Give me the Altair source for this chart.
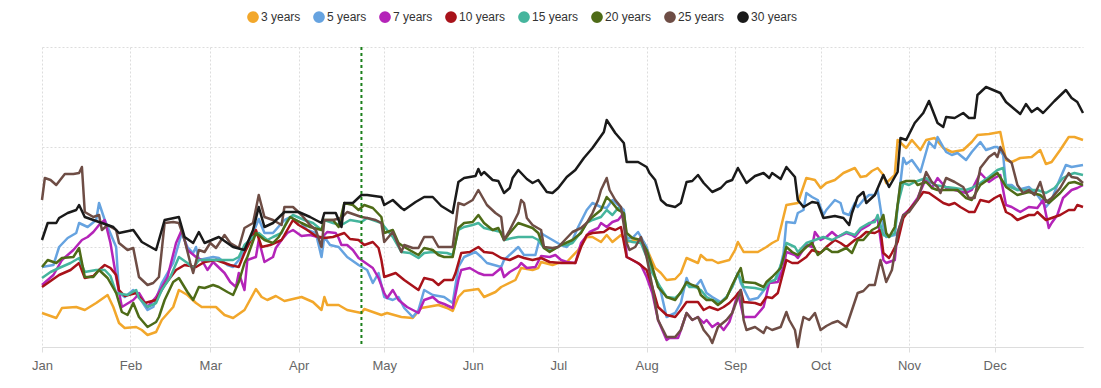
import altair as alt
import pandas as pd

series_names = ["3 years", "5 years", "7 years", "10 years", "15 years", "20 years", "25 years", "30 years"]
series_colors = ["#F2A72B", "#66A3E0", "#B424B8", "#A8121A", "#45B59D", "#4E6B17", "#6E4D45", "#1A1A1A"]

# (day of year, value) pairs
s_3y = [(0,0.34),(5,0.29),(7,0.39),(12,0.40),(15,0.37),(19,0.44),(23,0.52),(25,0.40),(27,0.24),(29,0.19),(33,0.20),(35,0.17),(37,0.12),(40,0.15),(42,0.27),(46,0.40),(48,0.57),(51,0.52),(54,0.44),(56,0.40),(61,0.40),(64,0.32),(67,0.29),(71,0.37),(75,0.58),(77,0.50),(79,0.47),(82,0.51),(85,0.46),(91,0.50),(95,0.45),(98,0.37),(99,0.50),(100,0.42),(104,0.42),(107,0.37),(112,0.34),(113,0.38),(119,0.32),(121,0.34),(126,0.30),(130,0.29),(133,0.39),(135,0.40),(139,0.42),(142,0.39),(144,0.36),(146,0.50),(148,0.56),(153,0.58),(155,0.50),(159,0.55),(161,0.60),(166,0.67),(168,0.79),(172,0.77),(174,0.79),(175,0.85),(179,0.82),(181,0.84),(184,0.85),(188,0.97),(191,1.10),(193,1.10),(196,1.05),(198,1.12),(200,1.05),(203,1.12),(205,1.05),(208,1.07),(211,1.05),(213,0.92),(215,0.79),(217,0.74),(219,0.67),(222,0.68),(224,0.74),(226,0.89),(230,0.84),(231,0.92),(233,0.87),(235,0.87),(237,0.84),(241,0.87),(243,0.97),(244,1.05),(246,0.95),(251,0.95),(254,1.00),(256,1.04),(258,1.07),(261,1.42),(265,1.44),(268,1.69),(271,1.67),(273,1.59),(275,1.64),(278,1.67),(281,1.74),(285,1.79),(287,1.70),(289,1.71),(291,1.76),(293,1.79),(295,1.72),(296,1.64),(299,1.72),(300,2.07),(303,1.99),(305,2.07),(308,1.97),(310,2.07),(313,2.09),(316,1.99),(319,1.95),(323,1.97),(326,2.05),(328,2.12),(332,2.13),(336,2.15),(338,1.87),(340,1.85),(343,1.89),(347,1.90),(350,1.97),(352,1.83),(354,1.85),(357,1.97),(360,2.10),(362,2.10),(365,2.07)]

s_5y = [(0,0.80),(4,0.82),(6,1.00),(9,1.09),(12,1.14),(13,1.24),(16,1.20),(19,1.27),(20,1.44),(22,1.27),(26,1.00),(27,0.54),(29,0.50),(32,0.57),(34,0.50),(37,0.37),(39,0.40),(42,0.64),(46,0.84),(49,1.14),(51,1.00),(53,0.94),(54,1.00),(55,0.87),(60,0.90),(62,0.89),(65,0.82),(67,0.80),(69,0.87),(72,1.04),(74,1.14),(76,1.28),(78,1.14),(81,1.14),(85,1.27),(87,1.30),(91,1.24),(93,1.17),(96,1.14),(98,0.90),(99,1.10),(101,1.02),(104,1.00),(107,0.90),(111,0.82),(114,0.77),(116,0.64),(118,0.74),(120,0.50),(123,0.47),(125,0.50),(127,0.39),(130,0.30),(132,0.37),(134,0.57),(137,0.52),(141,0.50),(144,0.44),(146,0.80),(148,0.90),(152,0.95),(154,0.90),(156,0.84),(161,0.80),(162,0.87),(167,1.00),(169,0.92),(173,0.92),(175,1.14),(176,1.12),(179,1.07),(182,1.02),(184,1.00),(186,1.07),(188,1.20),(191,1.37),(193,1.44),(196,1.40),(198,1.39),(200,1.47),(202,1.42),(204,1.37),(205,1.09),(207,1.09),(209,1.15),(210,1.10),(212,1.00),(214,0.77),(217,0.55),(219,0.30),(222,0.34),(224,0.44),(226,0.69),(227,0.62),(229,0.60),(231,0.67),(233,0.54),(235,0.50),(238,0.45),(240,0.50),(242,0.60),(244,0.74),(245,0.64),(248,0.47),(251,0.49),(254,0.60),(255,0.64),(258,0.69),(260,0.94),(261,1.25),(264,1.24),(265,1.34),(267,1.37),(268,1.54),(270,1.50),(272,1.47),(274,1.32),(275,1.37),(278,1.47),(280,1.44),(281,1.34),(283,1.32),(285,1.44),(286,1.40),(288,1.47),(290,1.52),(292,1.52),(293,1.57),(295,1.20),(296,1.10),(299,1.12),(300,1.40),(302,1.89),(303,1.83),(305,1.87),(308,1.75),(311,2.05),(313,1.99),(314,2.10),(317,1.95),(319,1.92),(321,1.94),(324,1.87),(326,1.95),(329,2.05),(331,1.97),(334,2.00),(335,2.00),(337,1.92),(338,1.62),(340,1.62),(342,1.57),(346,1.60),(349,1.52),(352,1.40),(354,1.47),(356,1.62),(359,1.82),(361,1.80),(365,1.82)]

s_7y = [(0,0.62),(4,0.72),(7,0.87),(11,0.97),(14,1.07),(16,1.10),(18,1.15),(20,1.22),(22,1.27),(24,1.04),(26,0.70),(28,0.40),(32,0.47),(33,0.50),(34,0.54),(37,0.40),(40,0.50),(44,0.70),(47,1.04),(49,1.17),(51,0.97),(54,0.90),(56,0.87),(58,0.77),(60,0.85),(64,0.74),(66,0.65),(68,0.60),(69,0.74),(71,0.57),(72,0.87),(75,0.90),(76,1.07),(78,0.85),(81,0.90),(82,0.99),(84,1.07),(86,1.14),(88,1.17),(91,1.11),(94,1.12),(98,1.09),(100,1.15),(103,1.14),(104,1.09),(105,1.02),(107,1.02),(109,0.97),(111,0.89),(113,0.85),(116,0.79),(118,0.69),(120,0.54),(121,0.49),(123,0.57),(125,0.47),(128,0.40),(132,0.34),(134,0.47),(137,0.50),(139,0.45),(141,0.43),(144,0.39),(146,0.67),(147,0.77),(150,0.79),(153,0.74),(155,0.72),(158,0.72),(161,0.79),(162,0.70),(164,0.75),(167,0.80),(168,0.84),(170,0.79),(173,0.80),(175,0.91),(178,0.90),(180,0.92),(182,0.87),(184,0.85),(187,0.84),(189,1.04),(192,1.15),(195,1.19),(196,1.24),(198,1.20),(200,1.25),(202,1.27),(204,1.34),(205,0.90),(207,0.87),(210,0.82),(212,0.70),(214,0.54),(216,0.27),(219,0.07),(220,0.09),(223,0.09),(224,0.17),(226,0.34),(228,0.27),(230,0.30),(232,0.24),(233,0.27),(235,0.20),(237,0.24),(239,0.17),(241,0.25),(242,0.34),(244,0.54),(246,0.30),(250,0.30),(253,0.40),(255,0.64),(258,0.65),(260,0.80),(261,0.95),(264,0.92),(265,0.89),(268,1.02),(270,1.00),(271,1.15),(273,1.07),(275,1.10),(277,1.15),(279,1.10),(282,1.14),(284,1.12),(285,1.10),(287,1.17),(290,1.22),(291,1.25),(293,1.29),(295,0.87),(296,0.84),(299,0.87),(300,1.14),(302,1.32),(304,1.37),(307,1.49),(310,1.69),(312,1.59),(314,1.69),(317,1.59),(320,1.57),(324,1.54),(326,1.57),(329,1.74),(332,1.65),(334,1.69),(336,1.72),(338,1.42),(340,1.40),(343,1.35),(346,1.40),(349,1.39),(351,1.47),(353,1.19),(354,1.24),(356,1.32),(358,1.49),(361,1.57),(363,1.59),(365,1.62)]

s_10y = [(0,0.60),(3,0.66),(6,0.72),(10,0.77),(13,0.84),(15,0.69),(18,0.71),(20,0.77),(22,0.82),(24,0.79),(26,0.72),(27,0.57),(29,0.51),(33,0.54),(36,0.44),(40,0.47),(43,0.62),(47,0.77),(50,0.82),(54,0.80),(57,0.85),(61,0.87),(66,0.82),(69,0.80),(71,0.94),(75,1.17),(77,1.00),(80,1.02),(84,1.07),(86,1.17),(88,1.27),(90,1.22),(93,1.17),(96,1.11),(99,1.09),(102,1.10),(106,1.14),(108,1.08),(111,1.07),(113,1.02),(116,1.05),(118,0.99),(119,0.87),(120,0.70),(124,0.74),(127,0.67),(132,0.57),(134,0.69),(137,0.67),(139,0.62),(141,0.67),(144,0.67),(145,0.74),(147,0.94),(150,0.95),(153,1.00),(155,0.95),(158,0.94),(161,0.89),(164,0.87),(167,0.91),(169,0.89),(172,0.87),(175,0.89),(178,0.85),(182,0.84),(187,0.84),(189,1.00),(191,1.12),(193,1.14),(197,1.15),(199,1.19),(201,1.17),(203,1.20),(205,0.90),(207,0.87),(209,0.84),(212,0.77),(214,0.60),(216,0.40),(219,0.32),(222,0.30),(224,0.37),(226,0.45),(230,0.45),(232,0.37),(234,0.40),(237,0.37),(239,0.40),(241,0.44),(243,0.50),(245,0.57),(246,0.45),(250,0.44),(252,0.42),(254,0.50),(256,0.49),(258,0.54),(261,0.87),(263,0.84),(265,0.84),(268,0.90),(270,0.97),(273,0.94),(275,1.00),(278,1.07),(280,1.04),(282,1.00),(285,1.07),(287,1.10),(289,1.15),(292,1.14),(294,1.17),(295,0.94),(297,0.89),(298,0.94),(300,1.05),(302,1.29),(304,1.37),(307,1.47),(309,1.55),(311,1.54),(313,1.50),(316,1.44),(318,1.42),(320,1.44),(322,1.40),(325,1.35),(327,1.35),(329,1.47),(332,1.45),(334,1.49),(336,1.52),(338,1.35),(340,1.32),(342,1.27),(346,1.32),(348,1.32),(349,1.35),(352,1.27),(354,1.29),(357,1.32),(360,1.37),(362,1.37),(363,1.42),(365,1.40)]

s_15y = [(0,0.69),(3,0.75),(6,0.79),(10,0.84),(13,0.89),(15,0.75),(19,0.77),(22,0.77),(24,0.71),(26,0.54),(30,0.52),(33,0.57),(34,0.49),(37,0.40),(40,0.44),(42,0.57),(45,0.70),(48,0.90),(51,0.84),(53,0.79),(55,0.87),(60,0.87),(67,0.87),(69,0.90),(71,1.02),(74,1.10),(76,1.14),(79,1.07),(81,1.10),(84,1.14),(86,1.27),(88,1.32),(92,1.27),(95,1.24),(98,1.17),(99,1.27),(102,1.24),(105,1.22),(108,1.27),(112,1.25),(114,1.29),(119,1.24),(123,1.10),(126,0.95),(129,0.94),(132,0.89),(134,0.94),(137,0.95),(142,0.94),(144,0.92),(146,1.17),(148,1.20),(151,1.22),(153,1.24),(155,1.19),(158,1.17),(161,1.15),(162,1.07),(165,1.09),(167,1.10),(172,1.10),(174,1.07),(176,0.99),(179,0.97),(182,1.02),(184,1.02),(186,1.04),(189,1.15),(191,1.24),(193,1.27),(196,1.30),(198,1.37),(200,1.32),(202,1.39),(204,1.34),(205,1.07),(207,1.05),(210,1.04),(212,0.90),(214,0.74),(217,0.59),(219,0.50),(222,0.49),(224,0.54),(226,0.64),(227,0.60),(229,0.60),(231,0.57),(233,0.50),(235,0.47),(238,0.44),(240,0.50),(242,0.60),(244,0.74),(246,0.60),(250,0.59),(253,0.57),(255,0.65),(257,0.67),(260,0.89),(261,1.04),(264,1.00),(265,0.95),(268,1.04),(271,1.07),(274,1.10),(277,1.07),(279,1.10),(282,1.15),(285,1.12),(287,1.19),(290,1.24),(292,1.25),(293,1.32),(295,1.12),(297,1.10),(299,1.14),(300,1.42),(302,1.64),(304,1.62),(306,1.65),(310,1.69),(313,1.62),(317,1.60),(320,1.59),(324,1.57),(326,1.59),(329,1.64),(332,1.70),(335,1.77),(337,1.79),(338,1.62),(342,1.57),(346,1.57),(349,1.57),(352,1.54),(355,1.59),(358,1.69),(360,1.72),(362,1.74),(365,1.72)]

s_20y = [(0,0.80),(2,0.87),(5,0.84),(7,0.89),(11,0.90),(13,0.99),(15,0.70),(18,0.70),(20,0.77),(23,0.69),(26,0.54),(28,0.35),(30,0.32),(32,0.44),(34,0.30),(37,0.20),(40,0.25),(41,0.30),(43,0.47),(46,0.65),(48,0.69),(51,0.55),(53,0.47),(55,0.60),(57,0.59),(60,0.62),(62,0.60),(65,0.55),(67,0.52),(69,0.65),(71,0.84),(72,0.90),(75,1.14),(78,1.07),(81,1.04),(83,1.10),(85,1.20),(87,1.30),(91,1.24),(94,1.20),(98,1.17),(99,1.27),(102,1.27),(104,1.20),(106,1.44),(109,1.42),(111,1.37),(113,1.42),(116,1.39),(119,1.30),(120,1.14),(123,1.17),(125,1.04),(127,1.00),(132,0.92),(134,0.99),(137,0.97),(139,0.92),(141,0.90),(144,0.90),(146,1.19),(148,1.24),(151,1.25),(153,1.32),(155,1.24),(158,1.17),(160,1.19),(162,1.07),(164,1.14),(167,1.24),(169,1.22),(172,1.19),(174,1.14),(176,0.99),(178,0.95),(182,1.02),(186,1.07),(189,1.14),(191,1.24),(193,1.30),(196,1.37),(198,1.50),(200,1.44),(202,1.37),(204,1.34),(205,1.14),(207,1.09),(210,1.07),(212,0.97),(214,0.80),(216,0.60),(219,0.50),(222,0.47),(224,0.55),(226,0.65),(228,0.62),(230,0.60),(231,0.52),(233,0.47),(235,0.47),(237,0.42),(240,0.49),(242,0.62),(245,0.79),(246,0.65),(250,0.64),(253,0.60),(254,0.65),(256,0.70),(259,0.79),(261,1.00),(263,0.95),(265,0.92),(268,1.00),(270,1.04),(272,0.92),(275,0.99),(277,0.95),(279,0.95),(282,0.99),(284,0.94),(286,1.07),(288,1.07),(291,1.17),(293,1.20),(295,1.32),(296,1.14),(297,1.10),(299,1.20),(301,1.64),(303,1.66),(306,1.66),(307,1.62),(310,1.65),(312,1.59),(314,1.57),(318,1.57),(321,1.57),(324,1.49),(326,1.47),(329,1.62),(333,1.70),(335,1.74),(337,1.65),(338,1.60),(342,1.52),(346,1.55),(350,1.52),(353,1.44),(355,1.49),(357,1.54),(360,1.64),(362,1.65),(365,1.62)]

s_25y = [(0,1.47),(1,1.69),(3,1.67),(5,1.62),(8,1.73),(11,1.73),(13,1.74),(14,1.80),(15,1.35),(18,1.30),(20,1.32),(21,1.17),(23,1.22),(26,1.17),(27,1.04),(30,0.97),(32,0.99),(34,0.70),(37,0.62),(39,0.64),(41,0.70),(43,1.24),(46,1.25),(48,1.24),(50,1.07),(52,0.84),(53,0.74),(55,0.97),(57,0.95),(59,1.04),(61,0.99),(64,1.12),(66,1.04),(69,0.99),(71,1.19),(74,1.24),(76,1.52),(78,1.30),(81,1.27),(84,1.22),(85,1.40),(88,1.40),(91,1.32),(94,1.22),(96,1.17),(98,1.00),(99,1.27),(102,1.27),(105,1.29),(107,1.35),(112,1.30),(114,1.29),(117,1.27),(119,1.24),(120,1.05),(123,1.15),(126,0.95),(127,1.02),(130,0.99),(132,0.99),(134,1.10),(137,1.10),(139,1.00),(144,1.00),(146,1.44),(148,1.42),(151,1.47),(153,1.57),(155,1.47),(156,1.42),(159,1.34),(161,1.30),(162,1.07),(164,1.17),(167,1.34),(168,1.47),(169,1.44),(170,1.29),(172,1.22),(175,1.17),(176,1.00),(179,0.99),(181,1.00),(184,1.09),(186,1.15),(189,1.19),(191,1.24),(193,1.34),(195,1.47),(196,1.57),(198,1.69),(199,1.57),(201,1.47),(203,1.40),(205,1.04),(206,0.97),(208,1.00),(210,1.10),(212,0.90),(214,0.60),(216,0.27),(219,0.10),(222,0.10),(224,0.17),(226,0.34),(228,0.27),(230,0.30),(232,0.17),(234,0.10),(235,0.04),(237,0.20),(240,0.27),(242,0.34),(245,0.57),(246,0.27),(247,0.17),(250,0.20),(253,0.14),(254,0.20),(256,0.17),(259,0.20),(261,0.35),(262,0.27),(264,0.17),(265,0.00),(266,0.17),(267,0.30),(269,0.27),(271,0.34),(273,0.17),(275,0.21),(277,0.24),(279,0.26),(282,0.20),(284,0.37),(286,0.54),(288,0.56),(290,0.62),(292,0.62),(294,0.87),(296,0.65),(298,0.77),(299,0.94),(300,1.14),(302,1.32),(304,1.35),(307,1.47),(310,1.75),(312,1.65),(314,1.60),(315,1.54),(317,1.69),(320,1.65),(323,1.60),(325,1.49),(327,1.49),(329,1.79),(332,1.90),(334,1.94),(335,1.90),(336,2.00),(338,1.89),(340,1.84),(342,1.62),(344,1.54),(346,1.57),(348,1.52),(350,1.65),(352,1.45),(354,1.49),(357,1.59),(360,1.74),(361,1.70),(363,1.69),(365,1.64)]

s_30y = [(0,1.07),(2,1.24),(5,1.24),(6,1.29),(9,1.34),(12,1.37),(13,1.42),(15,1.30),(20,1.25),(25,1.20),(27,1.14),(32,1.17),(35,1.05),(40,0.97),(43,1.27),(48,1.30),(50,1.10),(53,1.04),(55,1.15),(57,1.04),(62,1.10),(67,1.00),(71,0.97),(74,1.17),(76,1.40),(78,1.20),(81,1.24),(85,1.35),(90,1.35),(94,1.30),(98,1.24),(99,1.34),(103,1.34),(105,1.20),(106,1.44),(109,1.44),(112,1.52),(114,1.52),(119,1.50),(120,1.42),(123,1.47),(126,1.39),(127,1.37),(131,1.45),(134,1.50),(137,1.50),(140,1.41),(144,1.34),(146,1.65),(148,1.69),(152,1.71),(153,1.78),(154,1.72),(155,1.75),(158,1.67),(160,1.66),(162,1.54),(164,1.59),(165,1.69),(167,1.77),(170,1.68),(172,1.64),(174,1.67),(177,1.55),(179,1.54),(181,1.59),(184,1.70),(187,1.77),(190,1.89),(193,1.99),(195,2.07),(197,2.15),(198,2.27),(201,2.14),(204,2.04),(205,1.85),(209,1.85),(212,1.80),(213,1.74),(215,1.67),(217,1.47),(219,1.42),(222,1.40),(224,1.44),(226,1.65),(228,1.66),(230,1.72),(232,1.64),(235,1.55),(238,1.59),(240,1.65),(242,1.67),(244,1.79),(247,1.64),(250,1.71),(253,1.74),(255,1.69),(256,1.74),(259,1.68),(261,1.80),(264,1.70),(265,1.47),(267,1.40),(270,1.45),(272,1.44),(274,1.29),(278,1.31),(281,1.29),(283,1.22),(284,1.34),(286,1.50),(288,1.55),(289,1.44),(292,1.52),(295,1.72),(297,1.60),(300,1.75),(301,2.09),(303,2.07),(306,2.24),(309,2.34),(311,2.46),(314,2.24),(316,2.20),(317,2.30),(320,2.29),(323,2.34),(325,2.29),(327,2.29),(328,2.52),(331,2.60),(336,2.54),(338,2.45),(343,2.33),(345,2.43),(347,2.35),(349,2.39),(351,2.34),(355,2.46),(359,2.57),(361,2.49),(363,2.45),(365,2.34)]

all_series = [s_3y, s_5y, s_7y, s_10y, s_15y, s_20y, s_25y, s_30y]
year_start = "2023-01-01"
marker_day = 112
month_ticks = list(range(1, 13))

base = pd.Timestamp(year_start)
rows = []
for name, pts in zip(series_names, all_series):
    for d, v in pts:
        rows.append({"date": (base + pd.Timedelta(days=d)).strftime("%Y-%m-%dT%H:%M:%S"),
                     "value": v, "series": name})
df = pd.DataFrame(rows)
marker_df = pd.DataFrame({"date": [(base + pd.Timedelta(days=marker_day)).strftime("%Y-%m-%dT%H:%M:%S")]})

x_scale = alt.Scale(domain=[alt.DateTime(year=2023, month=1, date=1),
                            alt.DateTime(year=2024, month=1, date=1)])

lines = alt.Chart(df).mark_line(strokeWidth=2.5, strokeJoin="round").encode(
    x=alt.X("date:T", scale=x_scale,
            axis=alt.Axis(values=[alt.DateTime(year=2023, month=m, date=1) for m in month_ticks],
                          format="%b", title=None, grid=True, gridDash=[2, 2], gridColor="#dddddd",
                          domainColor="#dddddd", tickColor="#dddddd", tickSize=5,
                          labelFontSize=13, labelColor="#666666", labelFont="Liberation Sans",
                          labelPadding=7, labelFlush=False)),
    y=alt.Y("value:Q", scale=alt.Scale(domain=[0, 3], nice=False),
            axis=alt.Axis(values=[0, 1, 2, 3], labels=False, ticks=False, domain=False,
                          title=None, grid=True, gridDash=[2, 2], gridColor="#dddddd")),
    color=alt.Color("series:N",
                    scale=alt.Scale(domain=series_names, range=series_colors),
                    sort=series_names,
                    legend=alt.Legend(title=None, orient="none", direction="horizontal",
                                      legendX=205, legendY=-36, symbolType="circle",
                                      symbolSize=33, symbolStrokeWidth=6,
                                      labelFontSize=12, labelFont="Liberation Sans",
                                      labelColor="#333333", labelOffset=2, columnPadding=3)),
)

marker = alt.Chart(marker_df).mark_rule(color="#1B7F1B", strokeWidth=2, strokeDash=[3, 3]).encode(
    x=alt.X("date:T", scale=x_scale)
)

chart = alt.layer(lines, marker).properties(
    width=1041, height=300,
    autosize=alt.AutoSizeParams(type="none"),
    padding={"left": 34, "top": 39, "right": 10, "bottom": 30},
).configure_view(stroke=None)

chart.save("out.html", embed_options={"renderer": "svg", "actions": False})
